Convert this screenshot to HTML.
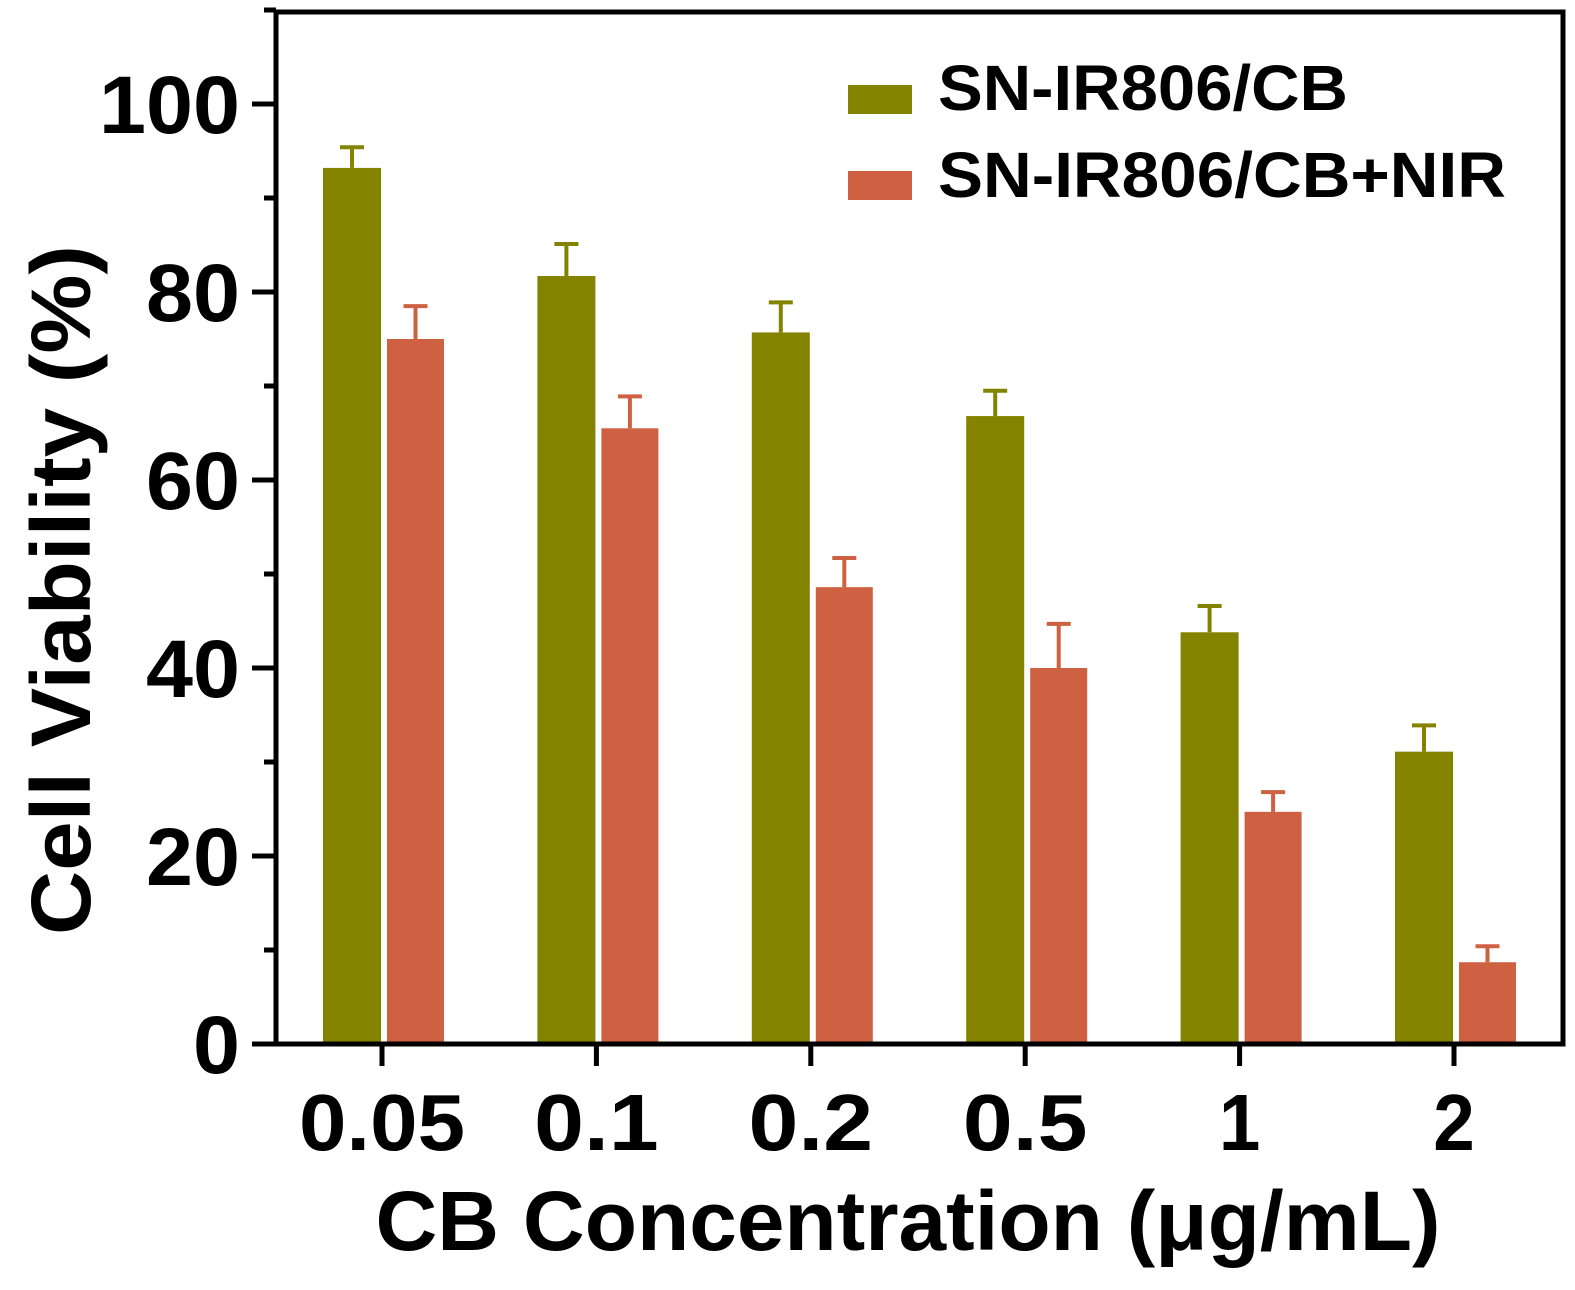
<!DOCTYPE html>
<html><head><meta charset="utf-8"><style>
html,body{margin:0;padding:0;background:#fff;}
svg text{font-family:"Liberation Sans",Arial,sans-serif;font-weight:bold;fill:#000;}
</style></head><body>
<svg id="chart" width="1575" height="1285" viewBox="0 0 1575 1285" xmlns="http://www.w3.org/2000/svg">
<g id="bars"></g>
<g id="axes"></g>
<text transform="translate(90,590) rotate(-90)" text-anchor="middle" font-size="84" textLength="690" lengthAdjust="spacingAndGlyphs">Cell Viability (%)</text>
<text x="908" y="1250" text-anchor="middle" font-size="84" textLength="1065" lengthAdjust="spacingAndGlyphs">CB Concentration (μg/mL)</text>
<g>
<rect x="848" y="85" width="64" height="29" fill="#838300"/>
<text x="938" y="110" font-size="64" textLength="410" lengthAdjust="spacingAndGlyphs">SN-IR806/CB</text>
<rect x="848" y="171" width="64" height="29" fill="#CD6142"/>
<text x="938" y="197" font-size="64" textLength="568" lengthAdjust="spacingAndGlyphs">SN-IR806/CB+NIR</text>
</g>
</svg>
<script>
const categories=["0.05","0.1","0.2","0.5","1","2"];
const cbValues=[93.2,81.7,75.7,66.8,43.8,31.1];
const cbErrors=[2.2,3.4,3.2,2.7,2.8,2.8];
const nirValues=[75.0,65.5,48.6,40.0,24.7,8.7];
const nirErrors=[3.5,3.4,3.1,4.7,2.1,1.7];
const yTicks=[0,20,40,60,80,100];

const NS="http://www.w3.org/2000/svg";
const x0=276,x1=1563,yTop=12,yBase=1044;
function y(v){return yBase-v*9.4;}
function xc(i){return 382+i*214.4;}
function el(tag,attrs,parent){const e=document.createElementNS(NS,tag);for(const k in attrs)e.setAttribute(k,attrs[k]);parent.appendChild(e);return e;}
const bars=document.getElementById('bars'),axes=document.getElementById('axes');
function drawBar(cx,left,w,v,err,color,name){
  const r=el('rect',{x:left,y:y(v),width:w,height:yBase-y(v),fill:color},bars);
  
  
  const mid=left+w/2;
  const l=el('line',{x1:mid,x2:mid,y1:y(v),y2:y(v+err),stroke:color,'stroke-width':4},bars);
  
  
  const c=el('line',{x1:mid-12,x2:mid+12,y1:y(v+err),y2:y(v+err),stroke:color,'stroke-width':4},bars);
  
  
}
categories.forEach((c,i)=>{
  const cx=xc(i);
  drawBar(cx,cx-59,58,cbValues[i],cbErrors[i],'#838300','bar-cb-'+c);
  drawBar(cx,cx+5,57,nirValues[i],nirErrors[i],'#CD6142','bar-nir-'+c);
  const t=el('line',{x1:cx,x2:cx,y1:yBase,y2:yBase+22,stroke:'#000','stroke-width':5},axes);
  
  
  const tx=el('text',{x:cx,y:1150,'text-anchor':'middle','font-size':80,textLength:c.length*41.5,lengthAdjust:'spacingAndGlyphs'},axes);
  tx.textContent=c;
  
  
});
for(let v=0;v<=110;v+=10){
  const major=v%20===0;
  const t=el('line',{x1:major?252:264,x2:x0,y1:y(v),y2:y(v),stroke:'#000','stroke-width':5},axes);
  
  
}
yTicks.forEach(v=>{
  const s=String(v);
  const tx=el('text',{x:240,y:y(v)+29,'text-anchor':'end','font-size':82,textLength:s.length*47,lengthAdjust:'spacingAndGlyphs'},axes);
  tx.textContent=s;
  
  
});
const frame=el('path',{d:`M${x0} ${yTop} L${x0} ${yBase} L${x1} ${yBase} L${x1} ${yTop} Z`,fill:'none',stroke:'#000','stroke-width':5},axes);


</script>
</body></html>
